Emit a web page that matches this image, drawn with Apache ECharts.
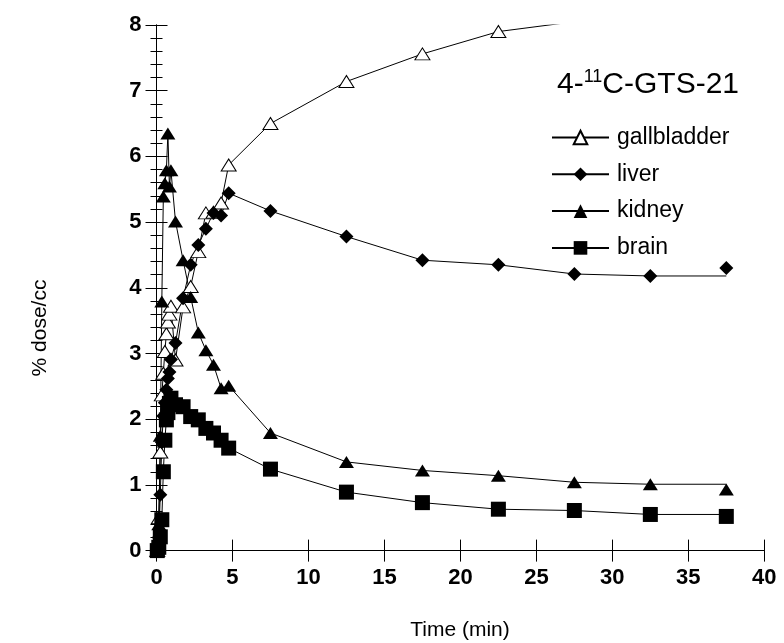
<!DOCTYPE html>
<html>
<head>
<meta charset="utf-8">
<script src="https://cdn.jsdelivr.net/npm/echarts@6/dist/echarts.min.js"></script>
<style>
  html, body { margin: 0; padding: 0; background: #fff; }
  #chart { width: 784px; height: 643px; }
</style>
</head>
<body>
<div id="chart"></div>
<script>
// Frame mid-times (min)
const times = [0.05, 0.15, 0.25, 0.35, 0.45, 0.55, 0.65, 0.75, 0.85, 0.95,
               1.25, 1.75, 2.25, 2.75, 3.25, 3.75, 4.25, 4.75,
               7.5, 12.5, 17.5, 22.5, 27.5, 32.5, 37.5];

// Tissue uptake (% dose/cc)
const gallbladder = [0.0, 0.5, 1.5, 2.37, 2.7, 3.03, 3.3, 3.48, 3.6, 3.72,
                     2.9, 3.71, 4.02, 4.55, 5.14, 5.15, 5.29, 5.87,
                     6.50, 7.14, 7.56, 7.90, 8.05, 8.3, 8.5];
const liver = [0.0, 0.2, 0.85, 1.65, 2.05, 2.25, 2.45, 2.62, 2.72, 2.91,
               3.16, 3.84, 4.35, 4.65, 4.90, 5.14, 5.10, 5.44,
               5.17, 4.78, 4.42, 4.35, 4.21, 4.18, 4.30];
const kidney = [0.02, 0.4, 1.75, 3.79, 5.39, 5.59, 5.79, 6.35, 5.54, 5.79,
                5.01, 4.42, 3.86, 3.32, 3.05, 2.83, 2.47, 2.51,
                1.79, 1.35, 1.22, 1.14, 1.04, 1.01, 0.93];
const brain = [0.0, 0.05, 0.21, 0.47, 1.2, 1.68, 1.99, 2.1, 2.24, 2.32,
               2.22, 2.19, 2.04, 1.99, 1.86, 1.79, 1.68, 1.56,
               1.24, 0.89, 0.73, 0.63, 0.61, 0.55, 0.52];

// Axis ticks
const xTicks = [0, 5, 10, 15, 20, 25, 30, 35, 40];
const yTicks = [0, 1, 2, 3, 4, 5, 6, 7, 8];

const FONT = '"Liberation Sans", Arial, sans-serif';

// Each tissue: a connecting line (held level over the final frame) plus markers
function tissueSeries(name, values, symbol, size, fill) {
  const last = values.length - 1;
  const itemStyle = {
    color: fill,
    opacity: 1,
    borderColor: '#000',
    borderWidth: fill === '#000' ? 0 : 1
  };
  const lineData = times.map((t, i) =>
    i < last ? [t, values[i]] : { value: [t, values[i - 1]], symbol: 'none' });
  return [
    {
      name, type: 'line', data: lineData,
      symbol, symbolSize: size, showAllSymbol: true, clip: true,
      lineStyle: { color: '#000', width: 1 },
      itemStyle, emphasis: { disabled: true }, animation: false, z: 3
    },
    {
      name, type: 'scatter', data: [[times[last], values[last]]],
      symbol, symbolSize: size, clip: true,
      itemStyle, emphasis: { disabled: true }, animation: false, z: 3
    }
  ];
}

const tickStyle = { show: true, inside: true, length: 11, lineStyle: { color: '#000', width: 1 } };
const lineStyle = { show: true, lineStyle: { color: '#000', width: 1 } };
const labelStyle = { color: '#000', fontFamily: FONT, fontWeight: 'bold', fontSize: 22 };

const xBase = {
  type: 'value',
  min: xTicks[0], max: xTicks[xTicks.length - 1], interval: xTicks[1] - xTicks[0],
  axisLine: lineStyle, axisTick: tickStyle, splitLine: { show: false }
};
const yBase = {
  type: 'value',
  min: yTicks[0], max: yTicks[yTicks.length - 1], interval: yTicks[1] - yTicks[0],
  axisLine: lineStyle, axisTick: tickStyle, splitLine: { show: false },
  minorTick: { show: true, splitNumber: 5, length: 6, lineStyle: { color: '#000', width: 1 } },
  minorSplitLine: { show: false }
};

const chart = echarts.init(document.getElementById('chart'), null, { renderer: 'canvas' });
chart.setOption({
  animation: false,
  backgroundColor: '#fff',
  grid: { left: 156.5, right: 19.7, top: 25, bottom: 92.4, containLabel: false },
  xAxis: [
    Object.assign({}, xBase, { position: 'bottom',
      axisLabel: Object.assign({ margin: 16 }, labelStyle) }),
    Object.assign({}, xBase, { position: 'top', axisLabel: { show: false } })
  ],
  yAxis: [
    Object.assign({}, yBase, { position: 'left',
      axisLabel: Object.assign({ margin: 15 }, labelStyle) }),
    Object.assign({}, yBase, { position: 'right', axisLabel: { show: false } })
  ],
  legend: {
    data: ['gallbladder', 'liver', 'kidney', 'brain'],
    orient: 'vertical',
    left: 546, top: 121,
    itemWidth: 57, itemHeight: 17, itemGap: 13.8,
    selectedMode: false,
    textStyle: { color: '#000', fontFamily: FONT, fontSize: 23, lineHeight: 20, padding: [0, 0, 0, 3] }
  },
  graphic: [
    {
      type: 'text', x: 40, y: 328, rotation: Math.PI / 2,
      style: { text: '% dose/cc', fontFamily: FONT, fontSize: 21, fill: '#000',
               align: 'center', verticalAlign: 'middle' }
    },
    {
      type: 'text', x: 460, y: 630,
      style: { text: 'Time (min)', fontFamily: FONT, fontSize: 21, fill: '#000',
               align: 'center', verticalAlign: 'middle' }
    },
    {
      type: 'text', x: 648, y: 84,
      style: {
        text: '{n|4-}{s|11}{n|C-GTS-21}',
        align: 'center', verticalAlign: 'middle',
        rich: {
          n: { fontFamily: FONT, fontSize: 30, fill: '#000', lineHeight: 32, verticalAlign: 'bottom' },
          s: { fontFamily: FONT, fontSize: 18, fill: '#000', lineHeight: 32, verticalAlign: 'top', padding: [0, 0, 12, 0] }
        }
      }
    }
  ],
  series: [].concat(
    tissueSeries('gallbladder', gallbladder, 'triangle', [15, 12], '#fff'),
    tissueSeries('liver', liver, 'diamond', 14, '#000'),
    tissueSeries('kidney', kidney, 'triangle', [15, 12], '#000'),
    tissueSeries('brain', brain, 'rect', 15, '#000')
  )
});
</script>
</body>
</html>
